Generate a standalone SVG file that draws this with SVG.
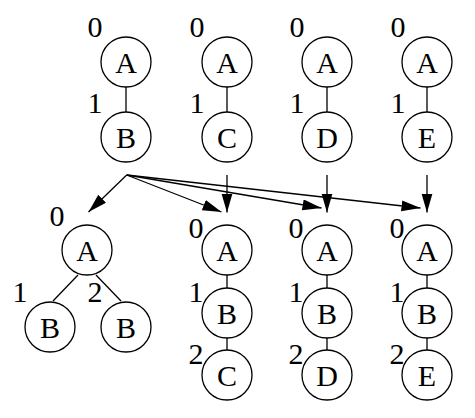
<svg xmlns="http://www.w3.org/2000/svg" width="475" height="418" viewBox="0 0 475 418">
<style>
circle{fill:#fff;stroke:#000;stroke-width:1.3}
line{stroke:#000;stroke-width:1.3}
text{font-family:"Liberation Serif","Times New Roman",serif;font-size:30px;fill:#000;text-anchor:middle}
.arr{marker-end:url(#ah)}
</style>
<defs>
<marker id="ah" markerUnits="userSpaceOnUse" markerWidth="20" markerHeight="12" refX="19" refY="5.5" orient="auto">
<path d="M0,0 L19,5.5 L0,11 z" fill="#000"/>
</marker>
</defs>
<rect width="475" height="418" fill="#fff"/>
<g id="connectors">
<line x1="126" y1="87" x2="126" y2="112"/>
<line x1="227" y1="87" x2="227" y2="112"/>
<line x1="327" y1="87" x2="327" y2="112"/>
<line x1="427" y1="87" x2="427" y2="112"/>
<line x1="78" y1="275" x2="53" y2="301"/>
<line x1="96" y1="275" x2="121" y2="301"/>
<line x1="227" y1="275" x2="227" y2="288"/>
<line x1="227" y1="338" x2="227" y2="350"/>
<line x1="327" y1="275" x2="327" y2="288"/>
<line x1="327" y1="338" x2="327" y2="350"/>
<line x1="427" y1="275" x2="427" y2="288"/>
<line x1="427" y1="338" x2="427" y2="350"/>
<line class="arr" x1="126.7" y1="175" x2="88.5" y2="212"/>
<line class="arr" x1="126.7" y1="175" x2="221.5" y2="212"/>
<line class="arr" x1="126.7" y1="175" x2="321.5" y2="208"/>
<line class="arr" x1="126.7" y1="175" x2="420.5" y2="208"/>
<line class="arr" x1="227" y1="175" x2="227" y2="212.5"/>
<line class="arr" x1="327" y1="175" x2="327" y2="212.5"/>
<line class="arr" x1="427" y1="175" x2="427" y2="212.5"/>
</g>
<g id="t1">
<g id="t1-A"><circle cx="126" cy="62" r="25"/><text x="126" y="73">A</text><text x="95" y="37">0</text></g>
<g id="t1-B"><circle cx="126" cy="137" r="25"/><text x="126" y="148">B</text><text x="95" y="113">1</text></g>
</g>
<g id="t2">
<g id="t2-A"><circle cx="227" cy="62" r="25"/><text x="227" y="73">A</text><text x="197" y="37">0</text></g>
<g id="t2-C"><circle cx="227" cy="137" r="25"/><text x="227" y="148">C</text><text x="197" y="113">1</text></g>
</g>
<g id="t3">
<g id="t3-A"><circle cx="327" cy="62" r="25"/><text x="327" y="73">A</text><text x="297" y="37">0</text></g>
<g id="t3-D"><circle cx="327" cy="137" r="25"/><text x="327" y="148">D</text><text x="297" y="113">1</text></g>
</g>
<g id="t4">
<g id="t4-A"><circle cx="427" cy="62" r="25"/><text x="427" y="73">A</text><text x="398" y="37">0</text></g>
<g id="t4-E"><circle cx="427" cy="137" r="25"/><text x="427" y="148">E</text><text x="398" y="113">1</text></g>
</g>
<g id="r1">
<g id="r1-A"><circle cx="87" cy="250" r="25"/><text x="87" y="261">A</text><text x="57" y="226">0</text></g>
<g id="r1-B1"><circle cx="50" cy="327" r="25"/><text x="50" y="338">B</text><text x="20" y="302">1</text></g>
<g id="r1-B2"><circle cx="126" cy="327" r="25"/><text x="126" y="338">B</text><text x="95" y="302">2</text></g>
</g>
<g id="r2">
<g id="r2-A"><circle cx="227" cy="250" r="25"/><text x="227" y="261">A</text><text x="196" y="238">0</text></g>
<g id="r2-B"><circle cx="227" cy="313" r="25"/><text x="227" y="324">B</text><text x="196" y="302">1</text></g>
<g id="r2-C"><circle cx="227" cy="375" r="25"/><text x="227" y="386">C</text><text x="196" y="364">2</text></g>
</g>
<g id="r3">
<g id="r3-A"><circle cx="327" cy="250" r="25"/><text x="327" y="261">A</text><text x="296" y="238">0</text></g>
<g id="r3-B"><circle cx="327" cy="313" r="25"/><text x="327" y="324">B</text><text x="296" y="302">1</text></g>
<g id="r3-D"><circle cx="327" cy="375" r="25"/><text x="327" y="386">D</text><text x="296" y="364">2</text></g>
</g>
<g id="r4">
<g id="r4-A"><circle cx="427" cy="250" r="25"/><text x="427" y="261">A</text><text x="397" y="238">0</text></g>
<g id="r4-B"><circle cx="427" cy="313" r="25"/><text x="427" y="324">B</text><text x="397" y="302">1</text></g>
<g id="r4-E"><circle cx="427" cy="375" r="25"/><text x="427" y="386">E</text><text x="397" y="364">2</text></g>
</g>
</svg>
